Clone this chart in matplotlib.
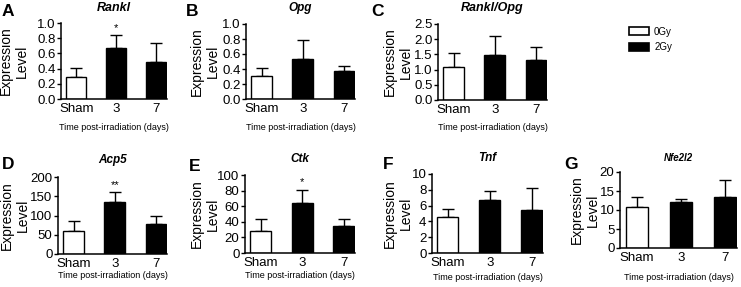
import matplotlib.pyplot as plt
import numpy as np
from matplotlib.patches import Patch

plt.rcParams['font.family'] = ['Liberation Sans', 'DejaVu Sans']

W, H = 741, 287

groups = ['Sham', '3', '7']
panels = ['A', 'B', 'C', 'D', 'E', 'F', 'G']
genes = ['Rankl', 'Opg', 'Rankl/Opg', 'Acp5', 'Ctk', 'Tnf', 'Nfe2l2']

means = [
    [0.29, 0.67, 0.49],
    [0.31, 0.53, 0.37],
    [1.07, 1.48, 1.30],
    [61, 135, 78],
    [28, 64, 35],
    [4.5, 6.7, 5.4],
    [10.9, 12.2, 13.5],
]
errs = [
    [0.12, 0.17, 0.25],
    [0.11, 0.26, 0.07],
    [0.48, 0.64, 0.45],
    [26, 26, 20],
    [15, 17, 9],
    [1.1, 1.1, 2.8],
    [2.4, 0.8, 4.5],
]
ymax = [1.0, 1.0, 2.5, 200, 100, 10, 20]
ystep = [0.2, 0.2, 0.5, 50, 20, 2, 5]
yfmt = ['%.1f', '%.1f', '%.1f', '%d', '%d', '%d', '%d']
stars = ['*', '', '', '**', '*', '', '']

# axes boxes in pixels: left, top, right, bottom
boxes = [
    (61, 23, 167, 99),
    (246, 24, 355, 99),
    (438, 24, 547, 100),
    (58, 177, 167, 254),
    (245, 175, 355, 253),
    (432, 174, 543, 253),
    (620, 172, 737, 248),
]
ylab_x = [14, 205, 398, 15, 205, 398, 585]
letter_xy = [(2, 4), (186, 4), (371, 4), (2, 157), (189, 159), (383, 157), (564, 157)]
title_y = [8, 8, 8, 160, 159, 158, 158]
title_size = [9, 8.5, 9, 8.5, 8.5, 8.5, 7]
xlab_y = [128, 128, 128, 275, 276, 277, 277]

fig = plt.figure(figsize=(W / 100, H / 100), dpi=100)

for i in range(7):
    l, t, r, b = boxes[i]
    ax = fig.add_axes([l / W, 1 - b / H, (r - l) / W, (b - t) / H])
    x = np.arange(3)
    colors = ['white', 'black', 'black']
    ax.bar(x, means[i], width=0.5, color=colors, edgecolor='black', linewidth=1.0, zorder=2)
    ax.errorbar(x, means[i], yerr=[np.zeros(3), errs[i]], fmt='none', ecolor='black',
                elinewidth=1.0, capsize=4, capthick=1.0, zorder=1)
    ax.set_xlim(-0.38, 2.27)
    ax.set_ylim(0, ymax[i])
    ticks = np.arange(0, ymax[i] + ystep[i] / 2, ystep[i])
    ax.set_yticks(ticks)
    ax.set_yticklabels([yfmt[i] % v for v in ticks])
    ax.set_xticks(x)
    ax.set_xticklabels(groups)
    ax.tick_params(axis='y', direction='out', length=3, width=1.0, labelsize=9.5, pad=1)
    ax.tick_params(axis='x', length=0, labelsize=9.5, pad=3)
    for s in ['top', 'right']:
        ax.spines[s].set_visible(False)
    for s in ['left', 'bottom']:
        ax.spines[s].set_linewidth(1.1)
    if stars[i]:
        j = 1
        ax.text(j, means[i][j] + errs[i][j] + ymax[i] * 0.03, stars[i], ha='center',
                va='bottom', fontsize=8)
    cx = (l + r) / 2
    fig.text(cx / W, 1 - title_y[i] / H, genes[i], ha='center', va='center',
             fontsize=title_size[i], fontweight='bold', fontstyle='italic')
    fig.text(cx / W, 1 - xlab_y[i] / H, 'Time post-irradiation (days)', ha='center',
             va='center', fontsize=6.5)
    fig.text(ylab_x[i] / W, 1 - (t + b) / 2 / H, 'Expression\nLevel', rotation=90,
             ha='center', va='center', fontsize=10, linespacing=1.15, multialignment='center')
    lx, ly = letter_xy[i]
    fig.text(lx / W, 1 - ly / H, panels[i], ha='left', va='top', fontsize=12.5,
             fontweight='bold')

handles = [Patch(facecolor='white', edgecolor='black', linewidth=1.2),
           Patch(facecolor='black', edgecolor='black', linewidth=1.2)]
fig.legend(handles, ['0Gy', '2Gy'], loc='upper left', bbox_to_anchor=(622 / W, 1 - 20 / H),
           frameon=False, fontsize=7, handlelength=2.1, handleheight=0.9,
           handletextpad=0.5, labelspacing=0.55, borderpad=0.2)

fig.savefig('out.png', dpi=100)
